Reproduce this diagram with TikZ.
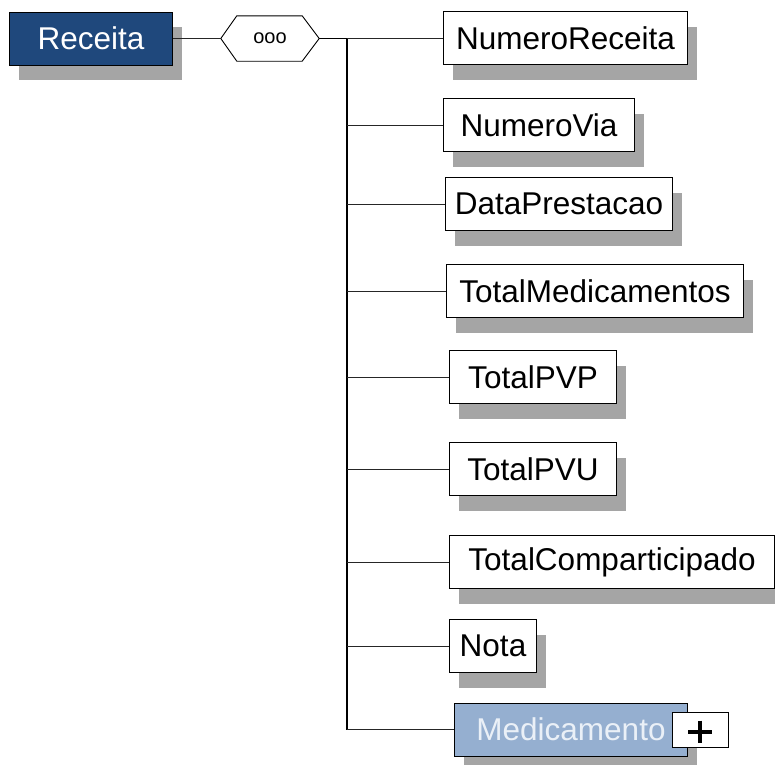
\documentclass[tikz,border=0pt]{standalone}
\usepackage{fontspec}
\setmainfont{Liberation Sans}
\usetikzlibrary{shadows,calc}
\definecolor{darkblue}{HTML}{1F487C}
\definecolor{lightblue}{HTML}{95AFD0}
\definecolor{shadowgray}{HTML}{A5A5A5}
\definecolor{paletext}{HTML}{EAF0F7}
\tikzset{
  elem/.style={draw=black, line width=1pt, fill=white, rectangle, inner sep=0pt,
    minimum height=53pt, anchor=west, font=\fontsize{31.5}{36}\selectfont,
    drop shadow={shadow xshift=9pt, shadow yshift=-15pt, opacity=1, fill=shadowgray}},
  branch/.style={draw=black!85, line width=0.9pt},
  spineline/.style={draw=black, line width=1.8pt}
}
\begin{document}
\begin{tikzpicture}[x=1pt,y=-1pt]
\useasboundingbox (0,0) rectangle (775,764);
% root
\node[elem, fill=darkblue, text=white, minimum width=163pt] (rec) at (9,38.5) {Receita};
% sequence compositor
\node[inner sep=0pt, minimum width=98pt, minimum height=45pt, font=\fontsize{20}{24}\selectfont] (hex) at (270,38.5) {ooo};
\draw[line width=0.9pt] (hex.west) -- ($(hex.north west)+(16,0)$) -- ($(hex.north east)+(-17,0)$) -- (hex.east) -- ($(hex.south east)+(-17,0)$) -- ($(hex.south west)+(16,0)$) -- cycle;
% children
\node[elem, minimum width=244pt] (nr) at (443,38) {NumeroReceita};
\node[elem, minimum width=191pt] (nv) at (443,125) {NumeroVia};
\node[elem, minimum width=227pt] (dp) at (445,204) {DataPrestacao};
\node[elem, minimum width=297pt] (tm) at (446,291) {TotalMedicamentos};
\node[elem, minimum width=167pt] (pvp) at (449,377) {TotalPVP};
\node[elem, minimum width=167pt] (pvu) at (449,469) {TotalPVU};
\node[elem, minimum width=325pt] (tc) at (449,562) {TotalComparticipado};
\node[elem, minimum width=87pt] (nota) at (449,646) {Nota};
\node[elem, fill=lightblue, text=paletext, minimum width=233pt] (med) at (454,729.5) {Medicamento};
\node[draw=black, line width=1pt, fill=white, inner sep=0pt, minimum width=56pt, minimum height=35pt] (plus) at (700,729.5) {};
\draw[line width=4pt] ($(plus.center)+(-12,2)$) -- ($(plus.center)+(12,2)$);
\draw[line width=4pt] ($(plus.center)+(0,-9)$) -- ($(plus.center)+(0,13)$);
% connectors
\coordinate (spine) at (347,38.5);
\coordinate (spineend) at (347,729.5);
\draw[branch] (rec.east) -- (hex.west);
\draw[spineline] (hex.east) -- (spine) -- (spineend);
\foreach \n in {nr,nv,dp,tm,pvp,pvu,tc,nota,med}
  \draw[branch] (spine |- \n.west) -- (\n.west);
\end{tikzpicture}
\end{document}
